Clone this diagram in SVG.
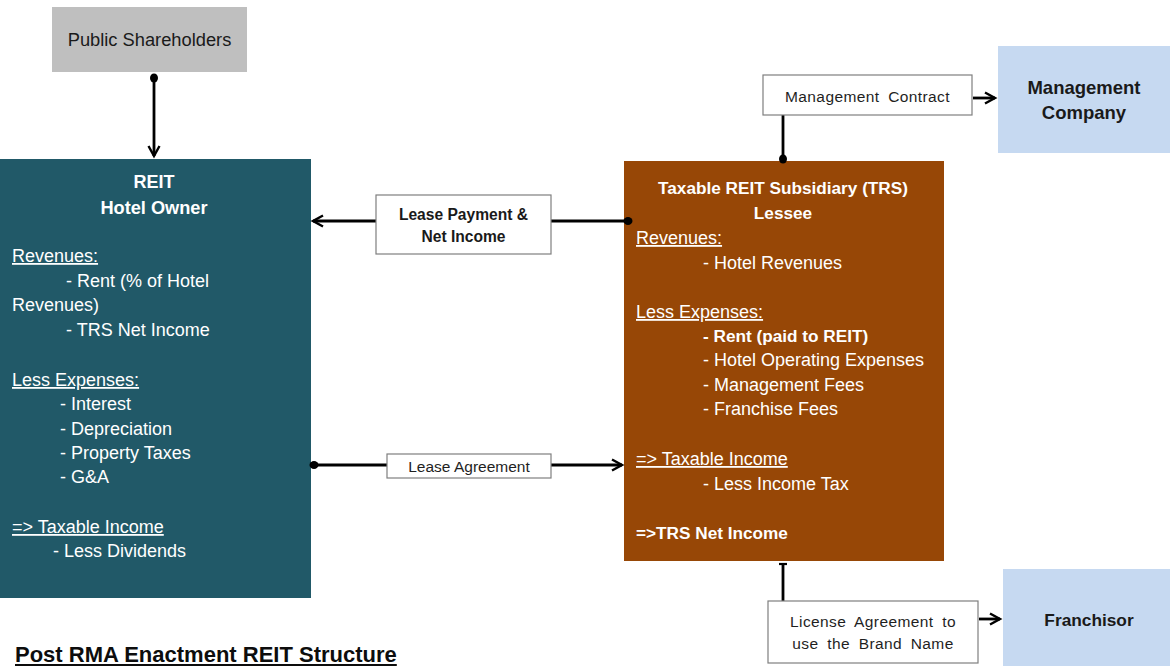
<svg xmlns="http://www.w3.org/2000/svg" width="1170" height="666" viewBox="0 0 1170 666">
  <defs>
    <marker id="arrow" markerWidth="14" markerHeight="14" refX="11" refY="7" orient="auto" markerUnits="userSpaceOnUse">
      <path d="M1,1.5 L11,7 L1,12.5" fill="none" stroke="#000" stroke-width="2.4"/>
    </marker>
    <marker id="dot" markerWidth="10" markerHeight="10" refX="5" refY="5" orient="auto" markerUnits="userSpaceOnUse">
      <ellipse cx="5" cy="5" rx="4.5" ry="4" fill="#000"/>
    </marker>
    <marker id="tbar" markerWidth="12" markerHeight="12" refX="2" refY="6" orient="auto" markerUnits="userSpaceOnUse">
      <path d="M2,2 L2,10" stroke="#000" stroke-width="2.2"/>
    </marker>
  </defs>
  <style>
    text { font-family: "Liberation Sans", Arial, sans-serif; }
    .lbl { font-size: 15.5px; fill: #1f1f1f; }
    .sp { letter-spacing: 0.4px; word-spacing: 4px; }
    .w { font-size: 18px; fill: #ffffff; }
    .wb { font-size: 17.2px; fill: #ffffff; font-weight: bold; }
    .u { text-decoration: underline; }
    .dk { fill: #1a1a1a; font-weight: bold; }
    .box { fill: #ffffff; stroke: #7f7f7f; stroke-width: 1.2; }
    .conn { stroke: #000; stroke-width: 2.8; fill: none; }
  </style>

  <rect width="1170" height="666" fill="#ffffff"/>

  <!-- Public Shareholders -->
  <g id="public-shareholders">
    <rect x="52" y="7" width="195" height="65" fill="#bfbfbf"/>
    <text x="149.5" y="46" text-anchor="middle" font-size="18.3" fill="#1a1a1a">Public Shareholders</text>
  </g>

  <!-- REIT / Hotel Owner -->
  <g id="reit">
    <rect x="0" y="159" width="311" height="439" fill="#215968"/>
    <text class="wb" x="154" y="188" text-anchor="middle" style="font-size:18px">REIT</text>
    <text class="wb" x="154" y="214" text-anchor="middle" style="font-size:18.2px">Hotel Owner</text>
    <text class="w u" x="12" y="262">Revenues:</text>
    <text class="w" x="66" y="287">- Rent (% of Hotel</text>
    <text class="w" x="12" y="311">Revenues)</text>
    <text class="w" x="66" y="336">- TRS Net Income</text>
    <text class="w u" x="12" y="386">Less Expenses:</text>
    <text class="w" x="60" y="410">- Interest</text>
    <text class="w" x="60" y="435">- Depreciation</text>
    <text class="w" x="60" y="459">- Property Taxes</text>
    <text class="w" x="60" y="483">- G&amp;A</text>
    <text class="w u" x="12" y="533">=&gt; Taxable Income</text>
    <text class="w" x="53" y="557">- Less Dividends</text>
  </g>

  <!-- TRS / Lessee -->
  <g id="trs">
    <rect x="624" y="161" width="320" height="400" fill="#974706"/>
    <text class="wb" x="783" y="194" text-anchor="middle">Taxable REIT Subsidiary (TRS)</text>
    <text class="wb" x="783" y="219" text-anchor="middle">Lessee</text>
    <text class="w u" x="636" y="244">Revenues:</text>
    <text class="w" x="703" y="269">- Hotel Revenues</text>
    <text class="w u" x="636" y="318">Less Expenses:</text>
    <text class="wb" x="703" y="342">- Rent (paid to REIT)</text>
    <text class="w" x="703" y="366">- Hotel Operating Expenses</text>
    <text class="w" x="703" y="391">- Management Fees</text>
    <text class="w" x="703" y="415">- Franchise Fees</text>
    <text class="w u" x="636" y="465">=&gt; Taxable Income</text>
    <text class="w" x="703" y="490">- Less Income Tax</text>
    <text class="wb" x="636" y="539">=&gt;TRS Net Income</text>
  </g>

  <!-- Management Company -->
  <g id="management-company">
    <rect x="998" y="46" width="172" height="107" fill="#c6d9f1"/>
    <text class="dk" x="1084" y="93.5" text-anchor="middle" font-size="18.5">Management</text>
    <text class="dk" x="1084" y="118.5" text-anchor="middle" font-size="18.5">Company</text>
  </g>

  <!-- Franchisor -->
  <g id="franchisor">
    <rect x="1003" y="569" width="167" height="97" fill="#c6d9f1"/>
    <text class="dk" x="1089" y="625.5" text-anchor="middle" font-size="17.3">Franchisor</text>
  </g>

  <!-- connectors: each link is split around its label box -->
  <g id="connectors">
    <line class="conn" x1="154" y1="78" x2="154" y2="156" marker-start="url(#dot)" marker-end="url(#arrow)"/>
    <line class="conn" x1="628" y1="221" x2="551" y2="221" marker-start="url(#dot)"/>
    <line class="conn" x1="376" y1="221" x2="313" y2="221" marker-end="url(#arrow)"/>
    <line class="conn" x1="314" y1="465" x2="387" y2="465" marker-start="url(#dot)"/>
    <line class="conn" x1="551" y1="465" x2="622" y2="465" marker-end="url(#arrow)"/>
    <line class="conn" x1="783" y1="115" x2="783" y2="159" marker-end="url(#dot)"/>
    <line class="conn" x1="973" y1="98" x2="995" y2="98" marker-end="url(#arrow)"/>
    <line class="conn" x1="783" y1="601" x2="783" y2="564" marker-end="url(#tbar)"/>
    <line class="conn" x1="979" y1="619" x2="1000" y2="619" marker-end="url(#arrow)"/>
  </g>

  <!-- Lease Payment label -->
  <g id="lease-payment">
    <rect class="box" x="376" y="195" width="175" height="59"/>
    <text class="dk" x="463.5" y="220" text-anchor="middle" style="font-size:15.6px">Lease Payment &amp;</text>
    <text class="dk" x="463.5" y="242" text-anchor="middle" style="font-size:15.6px">Net Income</text>
  </g>

  <!-- Lease Agreement label -->
  <g id="lease-agreement">
    <rect class="box" x="387" y="454" width="164" height="24"/>
    <text class="lbl" x="469" y="471.5" text-anchor="middle">Lease Agreement</text>
  </g>

  <!-- Management Contract label -->
  <g id="management-contract">
    <rect class="box" x="763" y="75" width="209" height="40"/>
    <text class="lbl sp" x="867.5" y="101.5" text-anchor="middle">Management Contract</text>
  </g>

  <!-- License Agreement label -->
  <g id="license-agreement">
    <rect class="box" x="768" y="601" width="210" height="62"/>
    <text class="lbl sp" x="873" y="627" text-anchor="middle">License Agreement to</text>
    <text class="lbl sp" x="873" y="649" text-anchor="middle">use the Brand Name</text>
  </g>

  <!-- Title -->
  <text x="15" y="662" font-size="22" font-weight="bold" fill="#0d0d0d" text-decoration="underline">Post RMA Enactment REIT Structure</text>
</svg>
